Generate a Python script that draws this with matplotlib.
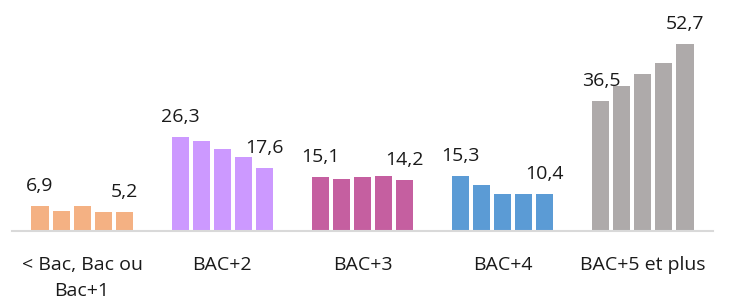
import matplotlib
matplotlib.use("Agg")
import matplotlib.pyplot as plt
import numpy as np

categories = ["< Bac, Bac ou\nBac+1", "BAC+2", "BAC+3", "BAC+4", "BAC+5 et plus"]
values = [
    [6.9, 5.6, 6.9, 5.2, 5.2],
    [26.3, 25.2, 23.0, 20.7, 17.6],
    [15.1, 14.6, 15.1, 15.5, 14.2],
    [15.3, 12.9, 10.4, 10.4, 10.4],
    [36.5, 40.8, 44.3, 47.3, 52.7],
]
colors = ["#F4B183", "#CC99FF", "#C55FA0", "#5B9BD5", "#AEAAAA"]

plt.rcParams['font.family'] = ['Open Sans', 'DejaVu Sans']

fig = plt.figure(figsize=(7.31, 3.04), dpi=100)
ax = fig.add_axes([12/731, 73.5/304, 701/731, 230.5/304])

slot = 0.15
bw = 0.122
for i, vals in enumerate(values):
    n = len(vals)
    xs = i + (np.arange(n) - (n - 1) / 2) * slot
    ax.bar(xs, vals, width=bw, color=colors[i], edgecolor='none', zorder=2)
    for j in (0, n - 1):
        ax.annotate(f"{vals[j]:.1f}".replace('.', ','), (xs[j], vals[j]),
                    xytext=(0, 8), textcoords='offset points',
                    ha='center', va='bottom', fontsize=14, color='#1a1a1a')

ax.set_xlim(-0.5, 4.5)
ax.set_ylim(0, 65.1)
ax.set_xticks(range(len(categories)))
ax.set_xticklabels(categories, fontsize=14, color='#1a1a1a', linespacing=1.6)
ax.tick_params(axis='x', length=0, pad=18)
ax.set_yticks([])
for s in ['top', 'right', 'left']:
    ax.spines[s].set_visible(False)
ax.spines['bottom'].set_color('#d9d9d9')
ax.spines['bottom'].set_linewidth(1.5)

fig.savefig("out.png", dpi=100)
